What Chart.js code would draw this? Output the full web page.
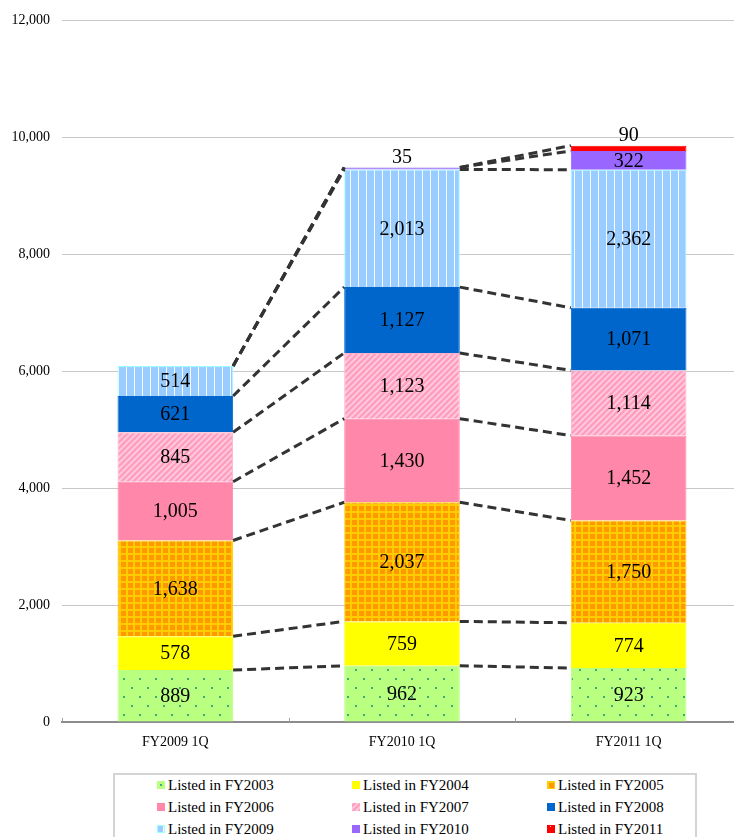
<!DOCTYPE html>
<html>
<head>
<meta charset="utf-8">
<script src="https://cdn.jsdelivr.net/npm/chart.js@4.4.1/dist/chart.umd.min.js"></script>
<style>
  html, body { margin: 0; padding: 0; overflow: hidden; background: #fff; }
  #wrap { position: absolute; left: 0; top: 0; width: 742px; height: 760px; }
  #legend {
    position: absolute; left: 113px; top: 773px; width: 584px; height: 80px;
    border: 2px solid #d4d4d4; box-sizing: border-box;
    font-family: 'Liberation Serif', serif; font-size: 15px; color: #000;
  }
  .item { position: absolute; white-space: nowrap; line-height: 16px; }
  .item i { display: inline-block; width: 8px; height: 8px; margin-right: 3px; vertical-align: 1px; }
</style>
</head>
<body>
<div id="wrap"><canvas id="myChart"></canvas></div>
<div id="legend"></div>
<script>
const categories = ['FY2009 1Q', 'FY2010 1Q', 'FY2011 1Q'];
const seriesNames = ['Listed in FY2003', 'Listed in FY2004', 'Listed in FY2005',
  'Listed in FY2006', 'Listed in FY2007', 'Listed in FY2008',
  'Listed in FY2009', 'Listed in FY2010', 'Listed in FY2011'];
const fy2003 = [889, 962, 923];
const fy2004 = [578, 759, 774];
const fy2005 = [1638, 2037, 1750];
const fy2006 = [1005, 1430, 1452];
const fy2007 = [845, 1123, 1114];
const fy2008 = [621, 1127, 1071];
const fy2009 = [514, 2013, 2362];
const fy2010 = [0, 35, 322];
const fy2011 = [0, 0, 90];
const yTicks = [0, 2000, 4000, 6000, 8000, 10000, 12000];

const FONT = "'Liberation Serif', serif";

// small tiles for the fill patterns
function tile(w, h, draw) {
  const c = document.createElement('canvas');
  c.width = w; c.height = h;
  draw(c.getContext('2d'), w, h);
  return c;
}
const tiles = [
  tile(16, 18, (g, w, h) => { // dotted green
    g.fillStyle = '#b9ff80'; g.fillRect(0, 0, w, h);
    g.fillStyle = '#3fa87c';
    g.fillRect(3, 3, 2, 2); g.fillRect(11, 12, 2, 2);
  }),
  tile(4, 4, (g, w, h) => { g.fillStyle = '#ffff00'; g.fillRect(0, 0, w, h); }),
  tile(7, 7, (g, w, h) => { // orange grid
    g.fillStyle = '#ffcc00'; g.fillRect(0, 0, w, h);
    g.fillStyle = '#ff9900'; g.fillRect(2, 2, 5, 5);
  }),
  tile(4, 4, (g, w, h) => { g.fillStyle = '#ff88aa'; g.fillRect(0, 0, w, h); }),
  tile(6, 6, (g, w, h) => { // pink diagonal
    g.fillStyle = '#ff9cbe'; g.fillRect(0, 0, w, h);
    g.strokeStyle = '#ffc8dc'; g.lineWidth = 2;
    g.beginPath();
    g.moveTo(-1, 7); g.lineTo(7, -1);
    g.moveTo(-4, 4); g.lineTo(4, -4);
    g.moveTo(2, 10); g.lineTo(10, 2);
    g.stroke();
  }),
  tile(4, 4, (g, w, h) => { g.fillStyle = '#0066cc'; g.fillRect(0, 0, w, h); }),
  tile(8, 4, (g, w, h) => { // blue vertical stripes
    g.fillStyle = '#99ccff'; g.fillRect(0, 0, w, h);
    g.fillStyle = '#f6fbff'; g.fillRect(6, 0, 1, h);
  }),
  tile(4, 4, (g, w, h) => { g.fillStyle = '#9966ff'; g.fillRect(0, 0, w, h); }),
  tile(8, 8, (g, w, h) => { // red with white dots
    g.fillStyle = '#ff0000'; g.fillRect(0, 0, w, h);
    g.fillStyle = '#ffd0d0'; g.fillRect(3, 1, 1, 1);
  })
];
const borders = ['#b9ff80', '#ffff00', '#ffcc00', '#ff88aa', '#ffb0cc', '#0066cc', '#99ffff', '#9966ff', '#ff0000'];
const values = [fy2003, fy2004, fy2005, fy2006, fy2007, fy2008, fy2009, fy2010, fy2011];

const ctx = document.getElementById('myChart').getContext('2d');
const datasets = values.map((v, i) => ({
  label: seriesNames[i],
  data: v,
  backgroundColor: ctx.createPattern(tiles[i], 'repeat'),
  borderColor: borders[i],
  borderWidth: 1,
  categoryPercentage: 0.51,
  barPercentage: 1
}));

// dashed connectors, value labels and small axis ticks
const overlay = {
  id: 'overlay',
  afterDatasetsDraw(chart) {
    const g = chart.ctx;
    const area = chart.chartArea;
    g.save();
    g.strokeStyle = '#333333';
    g.lineWidth = 3;
    g.setLineDash([9, 5]);
    chart.data.datasets.forEach((ds, d) => {
      const bars = chart.getDatasetMeta(d).data;
      for (let i = 0; i < bars.length - 1; i++) {
        const a = bars[i], b = bars[i + 1];
        g.beginPath();
        g.moveTo(a.x + a.width / 2, a.y);
        g.lineTo(b.x - b.width / 2, b.y);
        g.stroke();
      }
    });
    g.setLineDash([]);

    // axis ticks at category edges
    g.strokeStyle = '#a0a0a0';
    g.lineWidth = 1;
    const step = (area.right - area.left) / categories.length;
    for (let k = 0; k <= categories.length; k++) {
      const x = Math.round(area.left + k * step) + 0.5;
      g.beginPath(); g.moveTo(x, area.bottom); g.lineTo(x, area.bottom - 4); g.stroke();
    }

    g.fillStyle = '#000';
    g.font = '20px ' + FONT;
    g.textAlign = 'center';
    chart.data.datasets.forEach((ds, d) => {
      const bars = chart.getDatasetMeta(d).data;
      bars.forEach((bar, i) => {
        const v = ds.data[i];
        if (!v) return;
        const txt = v.toLocaleString('en-US');
        const h = bar.base - bar.y;
        if (h >= 15) {
          g.textBaseline = 'middle';
          g.fillText(txt, bar.x, (bar.y + bar.base) / 2 + 1);
        } else {
          g.textBaseline = 'bottom';
          g.fillText(txt, bar.x, bar.y);
        }
      });
    });
    g.restore();
  }
};

const config = {
  type: 'bar',
  data: { labels: categories, datasets: datasets },
  options: {
    responsive: true,
    maintainAspectRatio: false,
    animation: false,
    layout: { padding: { top: 20, left: 0, right: 0, bottom: 0 } },
    plugins: { legend: { display: false }, tooltip: { enabled: false } },
    scales: {
      x: {
        stacked: true,
        grid: { display: false, drawTicks: false },
        border: { color: '#8c8c8c', width: 2 },
        ticks: { color: '#000', padding: 12, font: { family: FONT, size: 14 } },
        afterFit: (s) => { s.height = 38; }
      },
      y: {
        stacked: true,
        min: 0,
        max: 12000,
        afterBuildTicks: (s) => { s.ticks = yTicks.map(v => ({ value: v })); },
        grid: { color: '#c8c8c8', drawTicks: false },
        border: { display: false },
        ticks: {
          color: '#000', padding: 12, font: { family: FONT, size: 14 },
          callback: (v) => v.toLocaleString('en-US')
        },
        afterFit: (s) => { s.width = 62; }
      }
    }
  },
  plugins: [overlay]
};
var myChart = new Chart(document.getElementById('myChart'), config);

// legend in three columns
const legend = document.getElementById('legend');
const colX = [42, 237, 432];
const rowY = [2, 24, 46];
seriesNames.forEach((name, i) => {
  const el = document.createElement('div');
  el.className = 'item';
  el.style.left = colX[i % 3] + 'px';
  el.style.top = rowY[Math.floor(i / 3)] + 'px';
  const sw = document.createElement('i');
  sw.style.backgroundImage = 'url(' + tiles[i].toDataURL() + ')';
  if (i === 2 || i === 6) sw.style.boxShadow = 'inset 0 0 0 1px ' + borders[i];
  el.appendChild(sw);
  el.appendChild(document.createTextNode(name));
  legend.appendChild(el);
});
</script>
</body>
</html>
